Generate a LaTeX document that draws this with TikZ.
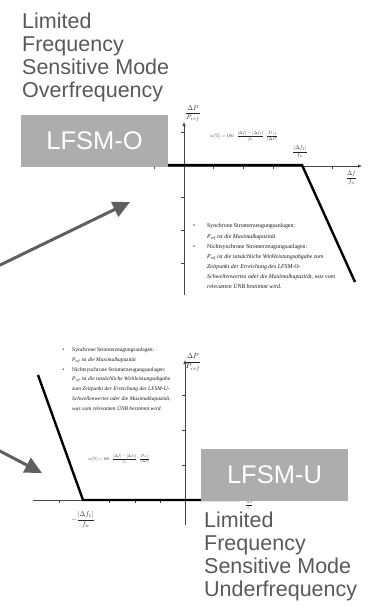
\documentclass[tikz,border=0pt]{standalone}
\usepackage[no-math]{fontspec}
\usepackage{graphicx}
\setmainfont{Liberation Sans}
\newfontfamily\smallserif{Liberation Serif}
\usetikzlibrary{arrows.meta}
\definecolor{labelgray}{RGB}{89,89,89}
\definecolor{boxgray}{RGB}{173,173,173}
\definecolor{arrowgray}{RGB}{95,95,95}
\definecolor{axisgray}{RGB}{70,70,70}
\tikzset{
  biglabel/.style={font=\fontsize{21.5}{23}\selectfont, text=labelgray, align=left, inner sep=0pt, anchor=north west},
  modebox/.style={fill=boxgray, text=white, font=\fontsize{25.5}{28}\selectfont, minimum width=147pt, minimum height=52pt, inner sep=0pt},
  axisline/.style={draw=axisgray, line width=0.6pt, -{Latex[length=4pt,width=3.5pt]}},
  curveline/.style={draw=black, line width=2.4pt},
  tickmark/.style={draw=axisgray, line width=0.5pt},
  bigarrow/.style={draw=arrowgray, line width=3pt, -{Triangle[length=17pt,width=16pt]}},
  mathlabel/.style={inner sep=0pt, text=black!85},
  bullettext/.style={inner sep=0pt, anchor=north west, align=left, text=black!90}
}
\begin{document}
\begin{tikzpicture}[x=1pt,y=-1pt]
\useasboundingbox (0,0) rectangle (370,606);
\fill[white] (0,0) rectangle (370,606);

% ---------- top chart (LFSM-O) ----------
\coordinate (o1) at (184,166);
\draw[axisline] (150,166) -- (362,166);
\draw[axisline] (184,295) -- (184,122);
\foreach \x in {154,213.6,243.2,272.8,332} \draw[tickmark] (\x,166) -- (\x,169);
\foreach \y in {132,197,230,263} \draw[tickmark] (181,\y) -- (184,\y);
\coordinate (k1a) at (150,165);
\coordinate (k1b) at (302,165);
\coordinate (k1c) at (355,282);
\draw[curveline] (k1a) -- (k1b) -- (k1c);
\node[mathlabel] (yl1) at (193,113.5) {\resizebox*{!}{16pt}{$\displaystyle\frac{\Delta P}{P_{ref}}$}};
\node[mathlabel] (kl1) at (300,151.5) {\resizebox*{!}{13pt}{$\displaystyle\frac{|\Delta f_1|}{f_n}$}};
\node[mathlabel] (xl1) at (351.5,178) {\resizebox*{!}{14pt}{$\displaystyle\frac{\Delta f}{f_n}$}};
\node[mathlabel] (fm1) at (244,136) {\resizebox{68pt}{!}{$\displaystyle s_1[\%]=100\cdot\frac{|\Delta f|-|\Delta f_1|}{f_n}\cdot\frac{P_{ref}}{|\Delta P|}$}};
\node[bullettext, font=\smallserif\fontsize{5.9}{10.2}\selectfont] (bt1) at (207,223.5) {\leavevmode\llap{\textbullet\hspace{12pt}}Synchrone Stromerzeugungsanlagen:\\
\textit{P\textsubscript{ref} ist die Maximalkapazität}\\
\leavevmode\llap{\textbullet\hspace{12pt}}Nichtsynchrone Stromerzeugungsanlagen:\\
\textit{P\textsubscript{ref} ist die tatsächliche Wirkleistungsabgabe zum}\\
\textit{Zeitpunkt der Erreichung des LFSM-O-}\\
\textit{Schwellenwertes oder die Maximalkapazität, was vom}\\
\textit{relevanten ÜNB bestimmt wird.}};

% ---------- bottom chart (LFSM-U) ----------
\coordinate (o2) at (185,500);
\draw[axisline] (33,500) -- (255,500);
\draw[axisline] (185,525) -- (185,360);
\foreach \x in {59,109,135,160} \draw[tickmark] (\x,500) -- (\x,503);
\foreach \y in {395,430,465} \draw[tickmark] (182,\y) -- (185,\y);
\coordinate (k2a) at (38,375);
\coordinate (k2b) at (83,500);
\coordinate (k2c) at (240,500);
\draw[curveline] (k2a) -- (k2b) -- (k2c);
\node[mathlabel] (yl2) at (193,362.5) {\resizebox*{!}{17pt}{$\displaystyle\frac{\Delta P}{P_{ref}}$}};
\node[mathlabel] (kl2) at (83,519.5) {\resizebox*{!}{16pt}{$\displaystyle-\frac{|\Delta f_1|}{f_n}$}};
\node[mathlabel] (xl2) at (249,505.5) {\resizebox*{!}{8pt}{$\displaystyle\frac{\Delta f}{f_n}$}};
\node[mathlabel] (fm2) at (119,459) {\resizebox{62pt}{!}{$\displaystyle s_2[\%]=100\cdot\frac{|\Delta f|-|\Delta f_1|}{f_n}\cdot\frac{P_{ref}}{|\Delta P|}$}};
\node[bullettext, font=\smallserif\fontsize{5.5}{9.8}\selectfont] (bt2) at (72,347.5) {\leavevmode\llap{\textbullet\hspace{8pt}}Synchrone Stromerzeugungsanlagen:\\
\textit{P\textsubscript{ref} ist die Maximalkapazität}\\
\leavevmode\llap{\textbullet\hspace{8pt}}Nichtsynchrone Stromerzeugungsanlagen:\\
\textit{P\textsubscript{ref} ist die tatsächliche Wirkleistungsabgabe}\\
\textit{zum Zeitpunkt der Erreichung des LFSM-U-}\\
\textit{Schwellenwertes oder die Maximalkapazität,}\\
\textit{was vom relevanten ÜNB bestimmt wird.}};

% ---------- mode boxes and labels ----------
\node[modebox] (boxO) at (94.5,141) {LFSM-O};
\node[modebox] (boxU) at (274.5,474.5) {LFSM-U};
\node[biglabel] (labO) at (22,12.5) {Limited\\Frequency\\Sensitive Mode\\Overfrequency};
\node[biglabel] (labU) at (204,511.5) {Limited\\Frequency\\Sensitive Mode\\Underfrequency};

% ---------- pointer arrows ----------
\coordinate (a1s) at (-4,267);
\coordinate (a1e) at (130,202);
\draw[bigarrow] (a1s) -- (a1e);
\coordinate (a2s) at (-4,449);
\coordinate (a2e) at (42,473);
\draw[bigarrow] (a2s) -- (a2e);
\end{tikzpicture}
\end{document}
